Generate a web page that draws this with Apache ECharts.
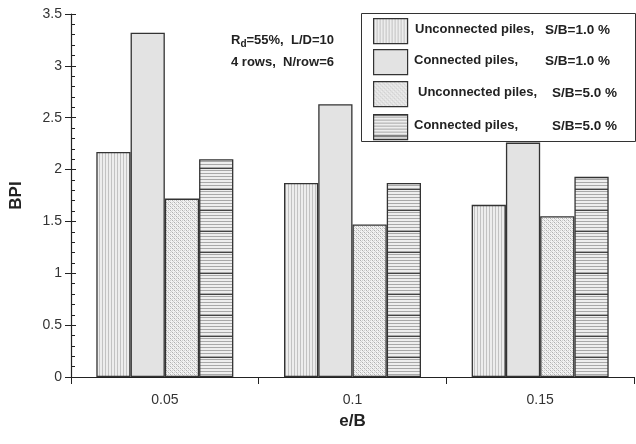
<!DOCTYPE html>
<html>
<head>
<meta charset="utf-8">
<script src="https://cdn.jsdelivr.net/npm/echarts@6/dist/echarts.min.js"></script>
<style>
  html, body { margin: 0; padding: 0; background: #fff; }
  #chart { width: 636px; height: 444px; }
</style>
</head>
<body>
<div id="chart"></div>
<script>
// e/B eccentricity ratios on the x axis
const categories = ['0.05', '0.1', '0.15'];
// BPI for each pile arrangement
const unconnected10 = [2.17, 1.87, 1.66];
const connected10   = [3.32, 2.63, 2.26];
const unconnected50 = [1.72, 1.47, 1.55];
const connected50   = [2.10, 1.87, 1.93];
const seriesNames = [
  ['Unconnected piles,', 'S/B=1.0 %'],
  ['Connected piles,', 'S/B=1.0 %'],
  ['Unconnected piles,', 'S/B=5.0 %'],
  ['Connected piles,', 'S/B=5.0 %']
];
const yTicks = ['0', '0.5', '1', '1.5', '2', '2.5', '3', '3.5'];

// Canvas-based fill patterns for the bars
function makePattern(w, h, draw) {
  const c = document.createElement('canvas');
  c.width = w; c.height = h;
  const ctx = c.getContext('2d');
  draw(ctx, w, h);
  return { image: c, repeat: 'repeat' };
}
const vertPattern = makePattern(6, 10, (ctx, w, h) => {
  ctx.fillStyle = '#ededed'; ctx.fillRect(0, 0, w, h);
  ctx.fillStyle = '#c2c2c2'; ctx.fillRect(0, 0, 1, h); ctx.fillRect(3, 0, 1, h);
});
const plainFill = '#e3e3e3';
const checkPattern = makePattern(4, 4, (ctx, w, h) => {
  ctx.fillStyle = '#f2f2f2'; ctx.fillRect(0, 0, w, h);
  ctx.fillStyle = '#b0b0b0';
  ctx.fillRect(0, 0, 1, 1); ctx.fillRect(2, 2, 1, 1);
  ctx.fillStyle = '#d0d0d0';
  ctx.fillRect(1, 1, 1, 1); ctx.fillRect(3, 3, 1, 1);
  ctx.fillRect(2, 0, 1, 1); ctx.fillRect(0, 2, 1, 1);
});
const horizPattern = makePattern(10, 21, (ctx, w, h) => {
  ctx.fillStyle = '#eeeeee'; ctx.fillRect(0, 0, w, h);
  ctx.fillStyle = '#a8a8a8';
  for (let y = 2; y < h; y += 3) ctx.fillRect(0, y, w, 1);
  ctx.fillStyle = '#444';
  ctx.fillRect(0, 0, w, 1);
});
const fills = [vertPattern, plainFill, checkPattern, horizPattern];
const seriesData = [unconnected10, connected10, unconnected50, connected50];

const chart = echarts.init(document.getElementById('chart'), null, { renderer: 'canvas' });

const gridLeft = 70, gridTop = 14, gridRight = 2, gridBottom = 67;

// Legend box drawn as graphics, with pattern swatches
const legendGraphics = [{
  type: 'rect', left: 361, top: 13,
  shape: { width: 274, height: 128 },
  style: { fill: '#fff', stroke: '#333', lineWidth: 1 }, z: 10
}];
const rowY = [18, 49, 81, 114];
const nameX = [415, 414, 418, 414];
const sbX = [545, 545, 552, 552];
const legendFont = 'bold 13px "Liberation Sans", Arial, sans-serif';
seriesNames.forEach((n, i) => {
  legendGraphics.push({
    type: 'rect', left: 373, top: rowY[i],
    shape: { width: 34, height: 25 },
    style: { fill: fills[i], stroke: '#333', lineWidth: 1.2 }, z: 11
  });
  legendGraphics.push({
    type: 'text', left: nameX[i], top: rowY[i] + 5,
    style: { text: n[0], fill: '#222', font: legendFont }, z: 11
  });
  legendGraphics.push({
    type: 'text', left: sbX[i], top: rowY[i] + 5,
    style: { text: n[1], fill: '#222', font: 'bold 13.5px "Liberation Sans", Arial, sans-serif' }, z: 11
  });
});

const option = {
  animation: false,
  backgroundColor: '#fff',
  grid: { left: gridLeft, top: gridTop, right: gridRight, bottom: gridBottom },
  xAxis: [{
    type: 'category',
    data: categories,
    name: 'e/B',
    nameLocation: 'middle',
    nameGap: 36,
    nameTextStyle: { fontSize: 17, fontWeight: 'bold', color: '#222', fontFamily: 'Liberation Sans' },
    axisLine: { lineStyle: { color: '#222', width: 1.2 } },
    axisTick: { show: true, length: 7, alignWithLabel: false, lineStyle: { color: '#222' } },
    axisLabel: { fontSize: 14, color: '#333', margin: 16, fontFamily: 'Liberation Sans' },
    splitLine: { show: false }
  }, {
    type: 'category',
    data: categories,
    position: 'top',
    axisLine: { show: true, lineStyle: { color: '#222', width: 1.2 } },
    axisTick: { show: false },
    axisLabel: { show: false }
  }],
  yAxis: [{
    type: 'value',
    min: 0, max: 3.5, interval: 0.5,
    name: 'BPI',
    nameLocation: 'middle',
    nameGap: 46,
    nameTextStyle: { fontSize: 17, fontWeight: 'bold', color: '#222', fontFamily: 'Liberation Sans' },
    axisLine: { show: true, lineStyle: { color: '#222', width: 1.2 } },
    axisTick: { show: true, length: 6, lineStyle: { color: '#222' } },
    minorTick: { show: false },
    axisLabel: {
      fontSize: 14, color: '#333', margin: 9, fontFamily: 'Liberation Sans',
      formatter: v => yTicks[Math.round(v / 0.5)]
    },
    splitLine: { show: false }
  }, {
    type: 'value',
    min: 0, max: 3.5, interval: 0.5,
    position: 'left',
    axisLine: { show: false },
    axisTick: { show: true, inside: true, length: 5, lineStyle: { color: '#222' } },
    minorTick: { show: true, splitNumber: 5, length: 4, lineStyle: { color: '#222' } },
    axisLabel: { show: false },
    splitLine: { show: false }
  }],
  graphic: [
    ...legendGraphics,
    {
      type: 'text', left: 231, top: 34,
      style: {
        text: '{m|R}{s|d}{m|=55%,  L/D=10}',
        rich: {
          m: { font: 'bold 13px "Liberation Sans", Arial, sans-serif', fill: '#222' },
          s: { font: 'bold 10px "Liberation Sans", Arial, sans-serif', fill: '#222', padding: [7, 0, 0, 0] }
        }
      }, z: 11
    },
    {
      type: 'text', left: 231, top: 56,
      style: { text: '4 rows,  N/row=6', font: 'bold 13px "Liberation Sans", Arial, sans-serif', fill: '#222' }, z: 11
    }
  ],
  series: seriesData.map((d, i) => ({
    type: 'bar',
    name: seriesNames[i].join(' '),
    data: d,
    barGap: '0%',
    barCategoryGap: '27%',
    itemStyle: { color: fills[i], borderColor: '#333', borderWidth: 1.3 },
    emphasis: { disabled: true }
  }))
};
chart.setOption(option);
</script>
</body>
</html>
